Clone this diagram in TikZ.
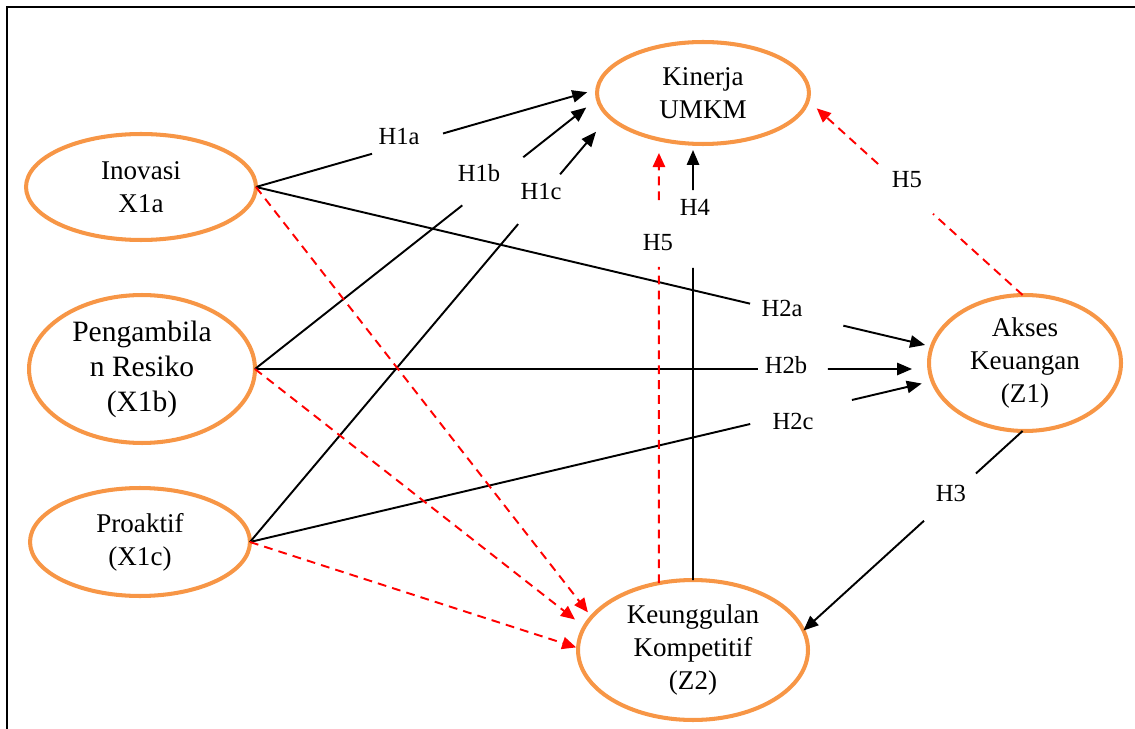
\documentclass[tikz,border=0pt]{standalone}
\usepackage{fontspec}
\setmainfont{Liberation Serif}
\usetikzlibrary{shapes.geometric,arrows.meta,calc}
\definecolor{orangeC}{HTML}{F79646}
\begin{document}
\begin{tikzpicture}[x=0.02cm,y=-0.02cm,
  construct/.style={ellipse, draw=orangeC, line width=2.3pt, inner sep=0pt, outer sep=0pt,
    align=center, font=\fontsize{15.4}{18.7}\selectfont},
  hyp/.style={inner sep=0pt, font=\fontsize{14}{16}\selectfont},
  seg/.style={line width=1.1pt},
  arr/.style={line width=1.1pt, -{Triangle[length=8.5pt,width=7pt]}},
  dseg/.style={red, line width=1.1pt, dash pattern=on 5pt off 3.5pt},
  darr/.style={dseg, -{Triangle[length=8pt,width=7pt]}}
]
\useasboundingbox (0,0) rectangle (1135,729);
\draw[line width=1pt] (7,729) -- (7,7) -- (1135,7);

% constructs
\node[construct, minimum width=4.24cm, minimum height=2.04cm] (kin) at (703,93) {Kinerja\\UMKM};
\node[construct, minimum width=4.6cm, minimum height=2.12cm] (ino) at (141,187) {Inovasi\\X1a};
\node[construct, minimum width=4.52cm, minimum height=2.96cm, font=\fontsize{16.8}{19.9}\selectfont] (pen) at (142,369) {Pengambila\\n Resiko\\(X1b)};
\node[construct, minimum width=4.4cm, minimum height=2.16cm] (pro) at (140,542) {Proaktif\\(X1c)};
\node[construct, minimum width=3.84cm, minimum height=2.72cm] (aks) at (1025,363) {Akses\\Keuangan\\(Z1)};
\node[construct, minimum width=4.6cm, minimum height=2.8cm] (keu) at (693,650) {Keunggulan\\Kompetitif\\(Z2)};

% hypothesis labels
\node[hyp] (l1a) at (399,137) {H1a};
\node[hyp] (l1b) at (479,173) {H1b};
\node[hyp] (l1c) at (541,192) {H1c};
\node[hyp] (l2a) at (782,308) {H2a};
\node[hyp] (l2b) at (786,365) {H2b};
\node[hyp] (l2c) at (793,421) {H2c};
\node[hyp] (l3) at (951,493) {H3};
\node[hyp] (l4) at (695,207) {H4};
\node[hyp] (l5a) at (658,243) {H5};
\node[hyp] (l5b) at (907,180) {H5};

\coordinate (h2bend) at (pen.east -| aks.west);
\coordinate (h4top) at (keu.north |- kin.south);
\coordinate (h5top) at (keu.117 |- kin.south);

% H1a
\draw[seg] (ino.east) -- ($(ino.east)!0.34!(kin.178)$);
\draw[arr, shorten >=0.21cm] ($(ino.east)!0.548!(kin.178)$) -- (kin.178);
% H1b
\draw[seg] (pen.east) -- ($(pen.east)!0.605!(kin.183)$);
\draw[arr, shorten >=0.29cm] ($(pen.east)!0.783!(kin.183)$) -- (kin.183);
% H1c
\draw[seg] (pro.east) -- ($(pro.east)!0.747!(kin.194)$);
\draw[arr, shorten >=0.4cm] ($(pro.east)!0.864!(kin.194)$) -- (kin.194);
% H2a
\draw[seg] (ino.east) -- ($(ino.east)!0.731!(aks.170)$);
\draw[arr, shorten >=0.14cm] ($(ino.east)!0.869!(aks.170)$) -- (aks.170);
% H2b
\draw[seg] (pen.east) -- ($(pen.east)!0.746!(h2bend)$);
\draw[arr, shorten >=0.34cm] ($(pen.east)!0.85!(h2bend)$) -- (h2bend);
% H2c
\draw[seg] (pro.east) -- ($(pro.east)!0.733!(aks.191)$);
\draw[arr, shorten >=0.22cm] ($(pro.east)!0.882!(aks.191)$) -- (aks.191);
% H3
\draw[seg] (aks.268) -- ($(aks.268)!0.213!(keu.10)$);
\draw[arr] ($(aks.268)!0.45!(keu.10)$) -- (keu.10);
% H4
\draw[seg] (keu.north) -- ($(keu.north)!0.716!(h4top)$);
\draw[arr, shorten >=0.12cm] ($(keu.north)!0.894!(h4top)$) -- (h4top);
% H5 (vertical, mediation)
\draw[dseg] (keu.117) -- ($(keu.117)!0.72!(h5top)$);
\draw[darr, shorten >=0.18cm] ($(keu.117)!0.872!(h5top)$) -- (h5top);
% H5 (diagonal, mediation)
\draw[dseg] (aks.92) -- ($(aks.92)!0.417!(kin.356)$);
\draw[darr, shorten >=0.24cm] ($(aks.92)!0.673!(kin.356)$) -- (kin.356);
% mediation paths to Z2
\draw[darr, shorten >=0.12cm] (ino.east) -- (keu.162);
\draw[darr, shorten >=0.24cm] (pen.east) -- (keu.168);
\draw[darr, shorten >=0.04cm] (pro.east) -- (keu.179);
\end{tikzpicture}
\end{document}
